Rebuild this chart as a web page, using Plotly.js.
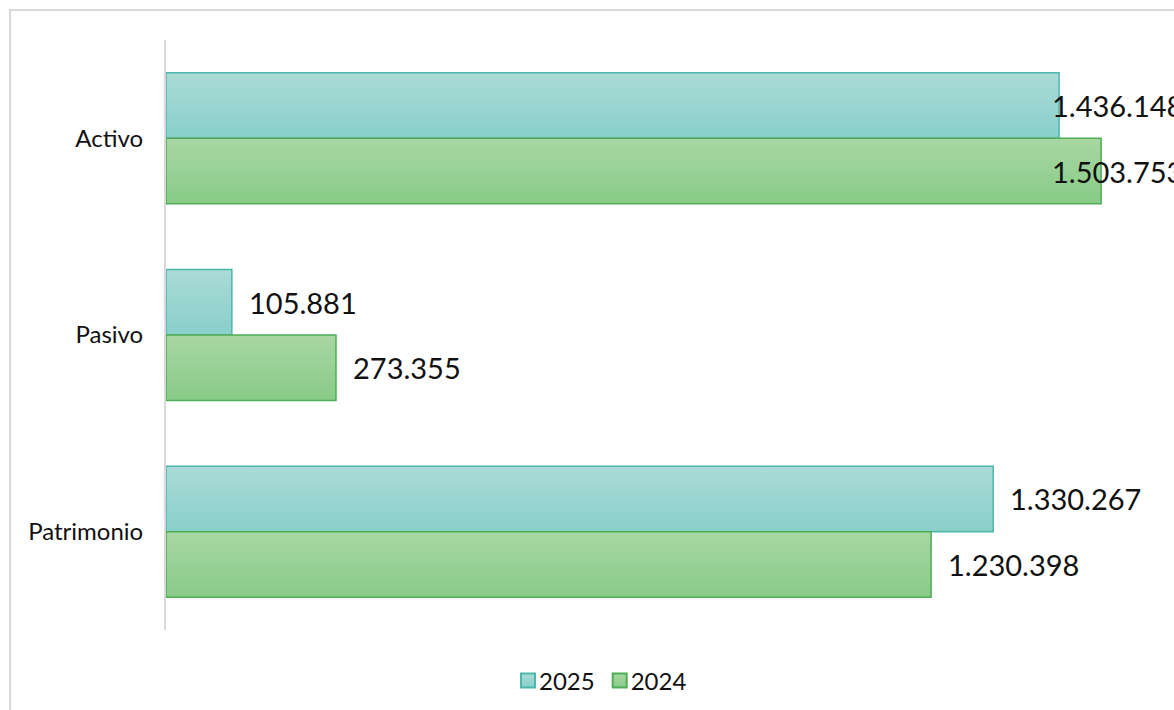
<!DOCTYPE html>
<html>
<head>
<meta charset="utf-8">
<script src="https://cdn.plot.ly/plotly-3.0.1.min.js"></script>
<style>
  html, body { margin: 0; padding: 0; background: #fff; }
  #wrap { position: relative; width: 1174px; height: 710px; overflow: hidden; }
  #frame { position: absolute; left: 9px; top: 9px; width: 1300px; height: 800px;
           border: 2px solid #d9d9d9; pointer-events: none; box-sizing: border-box; }
  #chart { position: absolute; left: 0; top: 0; width: 1174px; height: 710px; }
</style>
</head>
<body>
<div id="wrap">
  <div id="chart"></div>
  <div id="frame"></div>
</div>
<script>
// ---- data ----
const categories = ["Activo", "Pasivo", "Patrimonio"];
const seriesNames = ["2025", "2024"];
const values2025 = [1436148, 105881, 1330267];
const values2024 = [1503753, 273355, 1230398];

function fmt(v) {
  return String(v).replace(/\B(?=(\d{3})+(?!\d))/g, ".");
}

// ---- layout constants ----
const W = 1174, H = 710;
const M = { l: 166, r: 0, t: 40, b: 80 };
const X_MAX = 1621000;
const BARGAP = 0.334;
const plotW = W - M.l - M.r;
const LABEL_SHIFT = 15;
const LABEL_MAX_LEFT_PX = 1050; // labels are kept inside the chart's right edge
const labelCap = (LABEL_MAX_LEFT_PX - LABEL_SHIFT - M.l) / plotW * X_MAX;

const FONT = "Lato, 'Open Sans', sans-serif";

const traces = [
  {
    type: "bar", orientation: "h", name: seriesNames[0],
    y: categories, x: values2025,
    marker: { color: "#99d4d0", line: { color: "#4db6ae", width: 1.5 } },
    hoverinfo: "none"
  },
  {
    type: "bar", orientation: "h", name: seriesNames[1],
    y: categories, x: values2024,
    marker: { color: "#98d196", line: { color: "#4fad54", width: 1.5 } },
    hoverinfo: "none"
  }
];

const off = (1 - BARGAP) / 4;
const annotations = [];
[values2025, values2024].forEach((vals, s) => {
  vals.forEach((v, i) => {
    annotations.push({
      xref: "x", yref: "y",
      x: Math.min(v, labelCap),
      y: i + (s === 0 ? -off : off),
      text: fmt(v),
      showarrow: false,
      xanchor: "left", yanchor: "middle",
      xshift: LABEL_SHIFT,
      font: { family: FONT, size: 29, color: "#111" }
    });
  });
});

const layout = {
  width: W, height: H,
  margin: M,
  paper_bgcolor: "rgba(0,0,0,0)",
  plot_bgcolor: "rgba(0,0,0,0)",
  barmode: "group",
  bargap: BARGAP,
  bargroupgap: 0,
  showlegend: true,
  legend: {
    orientation: "h",
    xref: "container", yref: "container",
    x: 600 / W, y: 1 - 681 / H,
    xanchor: "center", yanchor: "middle",
    font: { family: FONT, size: 24, color: "#111" },
    itemwidth: 30,
    tracegroupgap: 0
  },
  xaxis: {
    range: [0, X_MAX],
    showgrid: false, zeroline: false, showline: false,
    showticklabels: false, ticks: ""
  },
  yaxis: {
    type: "category",
    autorange: "reversed",
    showgrid: false, zeroline: false,
    showline: true, linecolor: "#d9d9d9", linewidth: 2,
    ticks: "",
    ticklabelstandoff: 16,
    tickfont: { family: FONT, size: 24, color: "#111" }
  },
  annotations: annotations
};

Plotly.newPlot("chart", traces, layout, { displayModeBar: false, staticPlot: true }).then(gd => {
  // vertical gradient fills like the original
  const svg = gd.querySelector(".main-svg");
  const defs = svg.querySelector("defs") || svg.insertBefore(document.createElementNS("http://www.w3.org/2000/svg", "defs"), svg.firstChild);
  const grads = [
    { id: "g2025", top: "#abdbd7", bot: "#88cfca" },
    { id: "g2024", top: "#a8d7a3", bot: "#88cb88" }
  ];
  grads.forEach(g => {
    const lg = document.createElementNS("http://www.w3.org/2000/svg", "linearGradient");
    lg.setAttribute("id", g.id);
    lg.setAttribute("x1", "0"); lg.setAttribute("y1", "0");
    lg.setAttribute("x2", "0"); lg.setAttribute("y2", "1");
    [[0, g.top], [1, g.bot]].forEach(([o, c]) => {
      const st = document.createElementNS("http://www.w3.org/2000/svg", "stop");
      st.setAttribute("offset", o);
      st.setAttribute("stop-color", c);
      lg.appendChild(st);
    });
    defs.appendChild(lg);
  });
  gd.querySelectorAll(".barlayer .trace").forEach((t, k) => {
    t.querySelectorAll("path").forEach(p => { p.style.fill = "url(#" + grads[k].id + ")"; });
  });
  // legend: tighter gap between swatch and text, slightly larger swatch
  gd.querySelectorAll(".legend .traces").forEach((t, k) => {
    const txt = t.querySelector(".legendtext");
    if (txt) txt.setAttribute("x", String(parseFloat(txt.getAttribute("x")) - 9));
    t.querySelectorAll(".legendpoints path").forEach(p => {
      p.setAttribute("d", "M7,7H-7V-7H7Z");
      p.style.fill = "url(#" + grads[k].id + ")";
      p.style.strokeWidth = "2px";
    });
    if (k === 0) {
      const tf = t.getAttribute("transform") || "";
      const m = tf.match(/translate\(\s*([-\d.]+)[ ,]+([-\d.]+)\s*\)/);
      if (m) t.setAttribute("transform", "translate(" + (parseFloat(m[1]) + 9) + "," + m[2] + ")");
    }
  });
});
</script>
</body>
</html>
